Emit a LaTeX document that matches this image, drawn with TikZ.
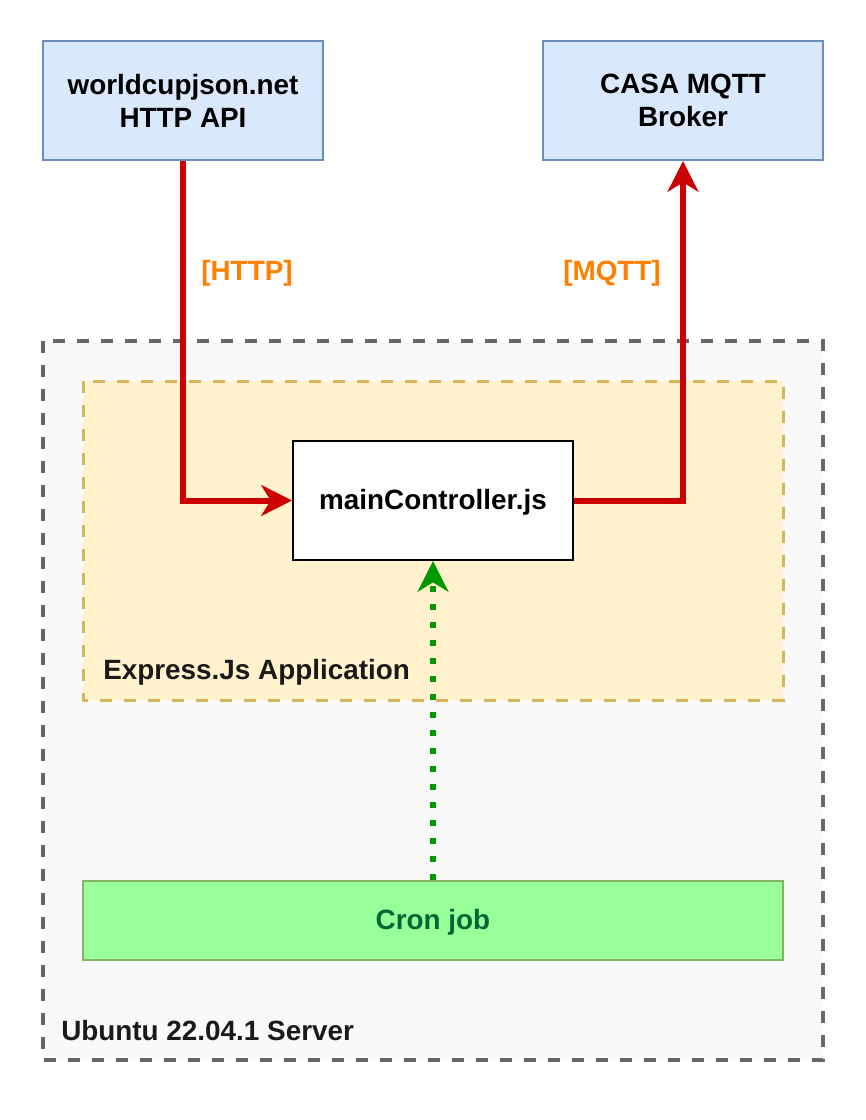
\documentclass[tikz,border=0pt]{standalone}
\usepackage{fontspec}
\setmainfont{Liberation Sans}
\usetikzlibrary{arrows.meta}
\definecolor{bluefill}{HTML}{DAE8FC}
\definecolor{blueline}{HTML}{6C8EBF}
\definecolor{serverfill}{HTML}{F9F9F9}
\definecolor{serverline}{HTML}{666666}
\definecolor{appfill}{HTML}{FFF2CC}
\definecolor{appline}{HTML}{D6B656}
\definecolor{cronfill}{HTML}{99FF99}
\definecolor{cronline}{HTML}{82B366}
\definecolor{crontext}{HTML}{006633}
\definecolor{linkred}{HTML}{CC0000}
\definecolor{linkgreen}{HTML}{009900}
\definecolor{labelorange}{HTML}{FF8000}
\definecolor{textdark}{HTML}{1A1A1A}
\tikzset{
  px/.style={x=0.75pt,y=-0.75pt},
  txt/.style={font=\fontsize{20.9}{24.75}\selectfont\bfseries},
  bluebox/.style={draw=blueline,fill=bluefill,line width=1.5pt,txt,align=center,inner sep=0pt},
  redlink/.style={draw=linkred,line width=4.5pt,-{Stealth[length=23pt,width=23pt,inset=7pt]}},
  greenlink/.style={draw=linkgreen,line width=4.5pt,dash pattern=on 4.5pt off 9pt,-{Stealth[length=23pt,width=23pt,inset=7pt]}},
  proto/.style={txt,text=labelorange},
}
\begin{document}
\begin{tikzpicture}[px]
\useasboundingbox (0,0) rectangle (866,1120);
% server
\draw[draw=serverline,fill=serverfill,line width=3pt,dash pattern=on 9pt off 9pt] (43,341) rectangle (823,1060);
\node[txt,text=textdark,anchor=west,inner sep=0pt] (srvlbl) at (61,1031) {Ubuntu 22.04.1 Server};
% app
\draw[draw=appline,fill=appfill,line width=2.25pt,dash pattern=on 9pt off 9pt] (83,381) rectangle (783,700);
\node[txt,text=textdark,anchor=west,inner sep=0pt] (applbl) at (103,672) {Express.Js Application};
% boxes
\node[bluebox,minimum width=210pt,minimum height=89.25pt] (api) at (183,100.5) {worldcupjson.net\\HTTP API};
\node[bluebox,minimum width=210pt,minimum height=89.25pt] (mqtt) at (683,100.5) {CASA MQTT\\Broker};
\node[draw=black,fill=white,line width=1.5pt,txt,minimum width=210pt,minimum height=89.25pt,inner sep=0pt,text depth=2pt] (main) at (433,500.5) {mainController.js};
\node[draw=cronline,fill=cronfill,line width=1.5pt,txt,text=crontext,minimum width=525pt,minimum height=59.25pt,inner sep=0pt,text depth=2pt] (cron) at (433,920.5) {Cron job};
% links
\draw[redlink] (api.south) |- (main.west);
\draw[redlink] (main.east) -| (mqtt.south);
\draw[greenlink] (cron.north) -- (main.south);
\node[proto] (httplbl) at (247,273) {[HTTP]};
\node[proto] (mqttlbl) at (612,273) {[MQTT]};
\end{tikzpicture}
\end{document}
